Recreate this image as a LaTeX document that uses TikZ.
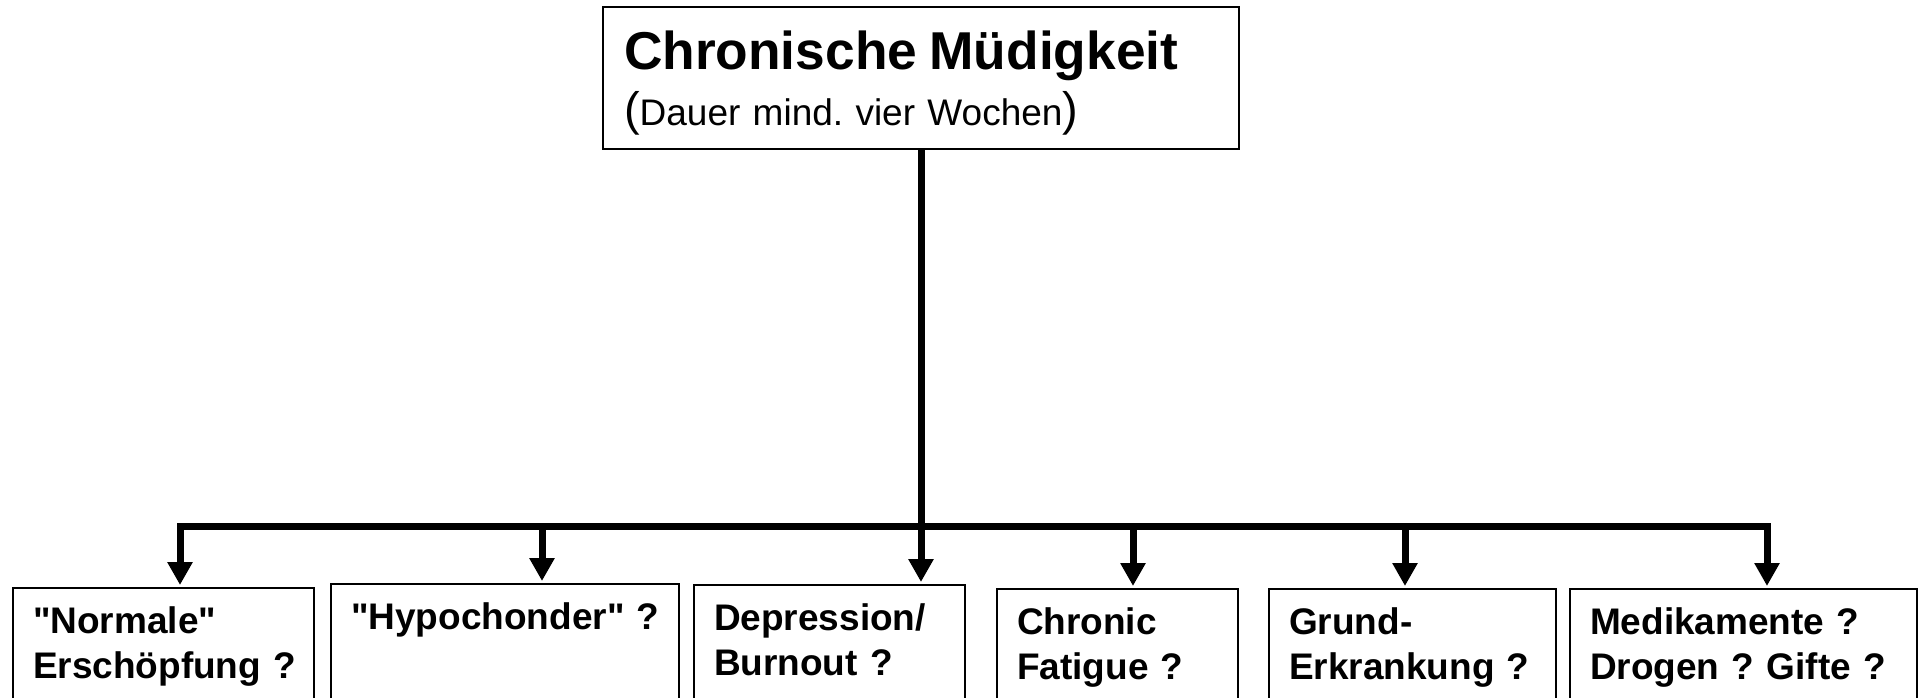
\documentclass[tikz,border=0pt]{standalone}
\usepackage{fontspec}
\setmainfont{Liberation Sans}[Ligatures=TeXOff]
\usetikzlibrary{arrows.meta, calc}
\frenchspacing

\begin{document}
\begin{tikzpicture}[
      x=0.5pt, y=-0.5pt,
      box/.style={rectangle, draw=black, line width=1.1pt, outer sep=0pt,
                  anchor=north west, inner xsep=10pt, inner ysep=0pt,
                  align=left, text height=22.5pt, text depth=70pt,
                  font=\fontsize{18.5}{22.5}\selectfont\bfseries},
      arr/.style={-{Triangle[length=11.5pt, width=12pt]}, line width=3.5pt, shorten >=1.5pt},
      bar/.style={line width=3.5pt, line cap=rect}
    ]
    \useasboundingbox (0,0) rectangle (1919,697);
    \clip (0,0) rectangle (1919,697);
    \node[box, text width=297pt, inner xsep=10.5pt, text height=31pt, text depth=40pt,
          font=\fontsize{18.5}{28}\selectfont] (cm) at (603,7)
      {{\fontsize{26.65}{28}\selectfont\bfseries Chronische Müdigkeit}\\
       {\fontsize{23.5}{28}\selectfont(}Dauer mind. vier Wochen{\fontsize{23.5}{28}\selectfont)}};
    \node[box, text width=130.5pt] (ne) at (13,588)   {"Normale"\\Erschöpfung~?};
    \node[box, text width=154pt]   (hy) at (331,584)  {"Hypochonder"~?};
    \node[box, text width=115.5pt] (dp) at (694,585)  {Depression/\\Burnout~?};
    \node[box, text width=100.5pt] (cf) at (997,589)  {Chronic\\Fatigue~?};
    \node[box, text width=123.5pt] (gk) at (1269,589) {Grund-\\Erkrankung~?};
    \node[box, text width=153.5pt] (md) at (1570,589) {Medikamente~?\\Drogen~? Gifte~?};
    \coordinate (j1) at (180,526);
    \coordinate (j2) at (542,526);
    \coordinate (j4) at (1133,526);
    \coordinate (j5) at (1405,526);
    \coordinate (j6) at (1767,526);
    \draw[bar] (j1) -- (j6);
    \draw[arr] (cm.south) -- (cm.south |- dp.north);
    \draw[arr] (j1) -- (j1 |- ne.north);
    \draw[arr] (j2) -- (j2 |- hy.north);
    \draw[arr] (j4) -- (j4 |- cf.north);
    \draw[arr] (j5) -- (j5 |- gk.north);
    \draw[arr] (j6) -- (j6 |- md.north);
  \end{tikzpicture}
\end{document}
